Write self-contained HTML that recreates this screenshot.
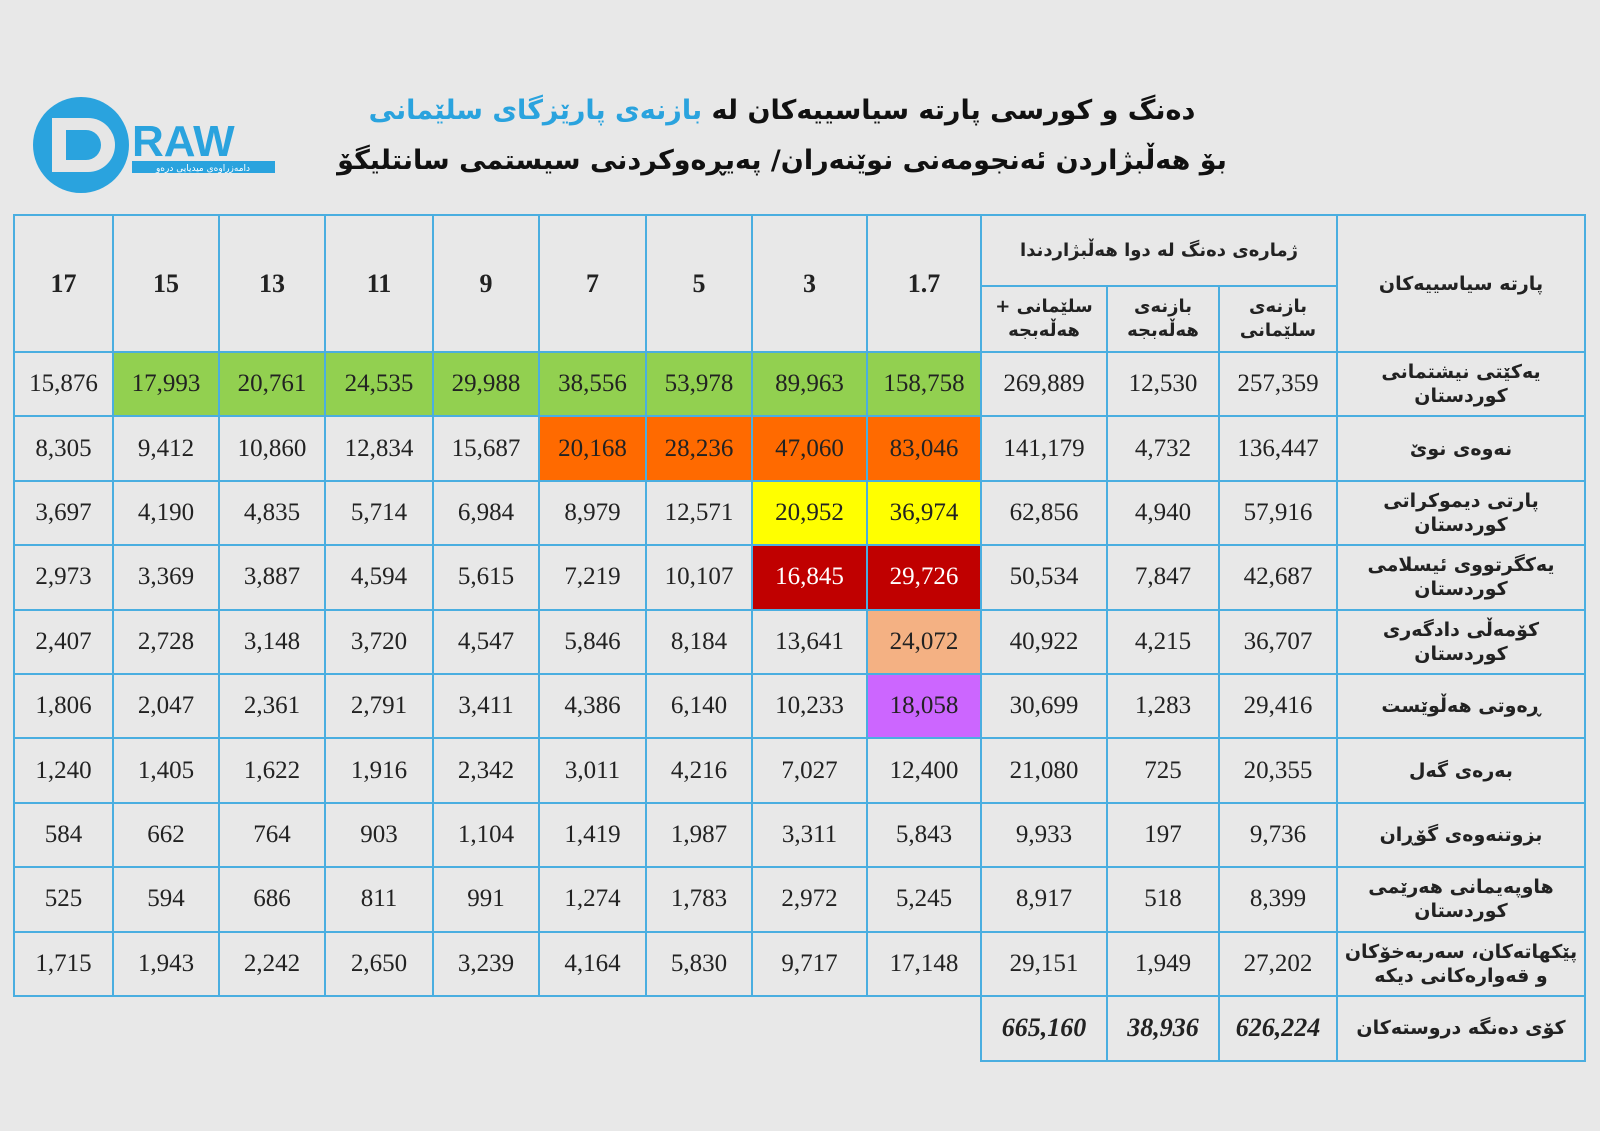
<!DOCTYPE html>
<html><head><meta charset="utf-8">
<style>
body{margin:0;width:1600px;height:1131px;background:#e8e8e8;position:relative;overflow:hidden;font-family:"Liberation Serif",serif;}
.t{position:absolute;left:0;width:1600px;text-align:center;font-family:"DejaVu Sans","Noto Sans CJK SC",sans-serif;font-weight:bold;font-size:27px;color:#111;direction:rtl;}
table{position:absolute;left:13px;top:214px;border-collapse:collapse;table-layout:fixed;}
td{border:2px solid #4aaee0;text-align:center;font-size:25px;color:#222;padding:0;}
.h{font-weight:bold;font-size:26px;}
.k{font-family:"DejaVu Sans",sans-serif;font-weight:bold;font-size:18px;direction:rtl;line-height:24px;}
.w{padding:0 28px;font-size:19px;}
.g{background:#92d050}.o{background:#ff6a00}.y{background:#ffff00}.r{background:#c00000;color:#fff}.p{background:#f4b183}.v{background:#cc66ff}
tr.d td{height:62.4px}
.n{border:none}
.b{font-weight:bold;font-style:italic;font-size:26px}
</style></head><body>
<svg style="position:absolute;left:0;top:90px" width="300" height="120">
<circle cx="81" cy="55" r="48" fill="#2aa3de"/>
<path d="M52 28 H88 A27 27 0 0 1 88 82 H52 Z" fill="#e6e6e6"/>
<path d="M66 40 H86 A15 15 0 0 1 86 70 H66 Z" fill="#2aa3de"/>
<text x="132" y="66" font-family="Liberation Sans" font-weight="bold" font-size="44" fill="#2aa3de">RAW</text>
<rect x="132" y="71" width="143" height="12" fill="#2aa3de"/>
<text x="203" y="81" text-anchor="middle" font-family="DejaVu Sans" font-size="9" fill="#fff" direction="rtl">دامەزراوەی میدیایی درەو</text>
</svg>
<div class="t" style="top:95px;left:-18px">دەنگ و کورسی پارتە سیاسییەکان لە <span style="color:#2aa3de">بازنەی پارێزگای سلێمانی</span></div>
<div class="t" style="top:145px;left:-18px">بۆ هەڵبژاردن ئەنجومەنی نوێنەران/ پەیڕەوکردنی سیستمی سانتلیگۆ</div>
<table>
<colgroup><col style="width:99px"><col style="width:106px"><col style="width:106px"><col style="width:108px"><col style="width:106px"><col style="width:107px"><col style="width:106px"><col style="width:115px"><col style="width:114px"><col style="width:126px"><col style="width:112px"><col style="width:118px"><col style="width:248px"></colgroup>
<tr style="height:71px"><td class="h" rowspan="2">17</td><td class="h" rowspan="2">15</td><td class="h" rowspan="2">13</td><td class="h" rowspan="2">11</td><td class="h" rowspan="2">9</td><td class="h" rowspan="2">7</td><td class="h" rowspan="2">5</td><td class="h" rowspan="2">3</td><td class="h" rowspan="2">1.7</td><td class="k" colspan="3">ژمارەی دەنگ لە دوا هەڵبژاردندا</td><td class="k w" rowspan="2">پارتە سیاسییەکان</td></tr>
<tr style="height:66px"><td class="k">سلێمانی + هەڵەبجە</td><td class="k">بازنەی هەڵەبجە</td><td class="k">بازنەی سلێمانی</td></tr>
<tr class="d"><td>15,876</td><td class="g">17,993</td><td class="g">20,761</td><td class="g">24,535</td><td class="g">29,988</td><td class="g">38,556</td><td class="g">53,978</td><td class="g">89,963</td><td class="g">158,758</td><td>269,889</td><td>12,530</td><td>257,359</td><td class="k w">یەکێتی نیشتمانی کوردستان</td></tr>
<tr class="d"><td>8,305</td><td>9,412</td><td>10,860</td><td>12,834</td><td>15,687</td><td class="o">20,168</td><td class="o">28,236</td><td class="o">47,060</td><td class="o">83,046</td><td>141,179</td><td>4,732</td><td>136,447</td><td class="k w">نەوەی نوێ</td></tr>
<tr class="d"><td>3,697</td><td>4,190</td><td>4,835</td><td>5,714</td><td>6,984</td><td>8,979</td><td>12,571</td><td class="y">20,952</td><td class="y">36,974</td><td>62,856</td><td>4,940</td><td>57,916</td><td class="k w">پارتی دیموکراتی کوردستان</td></tr>
<tr class="d"><td>2,973</td><td>3,369</td><td>3,887</td><td>4,594</td><td>5,615</td><td>7,219</td><td>10,107</td><td class="r">16,845</td><td class="r">29,726</td><td>50,534</td><td>7,847</td><td>42,687</td><td class="k w">یەکگرتووی ئیسلامی کوردستان</td></tr>
<tr class="d"><td>2,407</td><td>2,728</td><td>3,148</td><td>3,720</td><td>4,547</td><td>5,846</td><td>8,184</td><td>13,641</td><td class="p">24,072</td><td>40,922</td><td>4,215</td><td>36,707</td><td class="k w">کۆمەڵی دادگەری کوردستان</td></tr>
<tr class="d"><td>1,806</td><td>2,047</td><td>2,361</td><td>2,791</td><td>3,411</td><td>4,386</td><td>6,140</td><td>10,233</td><td class="v">18,058</td><td>30,699</td><td>1,283</td><td>29,416</td><td class="k w">ڕەوتی هەڵوێست</td></tr>
<tr class="d"><td>1,240</td><td>1,405</td><td>1,622</td><td>1,916</td><td>2,342</td><td>3,011</td><td>4,216</td><td>7,027</td><td>12,400</td><td>21,080</td><td>725</td><td>20,355</td><td class="k w">بەرەی گەل</td></tr>
<tr class="d"><td>584</td><td>662</td><td>764</td><td>903</td><td>1,104</td><td>1,419</td><td>1,987</td><td>3,311</td><td>5,843</td><td>9,933</td><td>197</td><td>9,736</td><td class="k w">بزوتنەوەی گۆڕان</td></tr>
<tr class="d"><td>525</td><td>594</td><td>686</td><td>811</td><td>991</td><td>1,274</td><td>1,783</td><td>2,972</td><td>5,245</td><td>8,917</td><td>518</td><td>8,399</td><td class="k w">هاوپەیمانی هەرێمی کوردستان</td></tr>
<tr class="d"><td>1,715</td><td>1,943</td><td>2,242</td><td>2,650</td><td>3,239</td><td>4,164</td><td>5,830</td><td>9,717</td><td>17,148</td><td>29,151</td><td>1,949</td><td>27,202</td><td class="k" style="padding:0 6px;font-size:19px">پێکهاتەکان، سەربەخۆکان و قەوارەکانی دیکە</td></tr>
<tr style="height:65px"><td class="n"></td><td class="n"></td><td class="n"></td><td class="n"></td><td class="n"></td><td class="n"></td><td class="n"></td><td class="n"></td><td class="n" style="border-right:2px solid #4aaee0"></td><td class="b">665,160</td><td class="b">38,936</td><td class="b">626,224</td><td class="k" style="white-space:nowrap;font-size:19px">کۆی دەنگە دروستەکان</td></tr>
</table>
</body></html>
